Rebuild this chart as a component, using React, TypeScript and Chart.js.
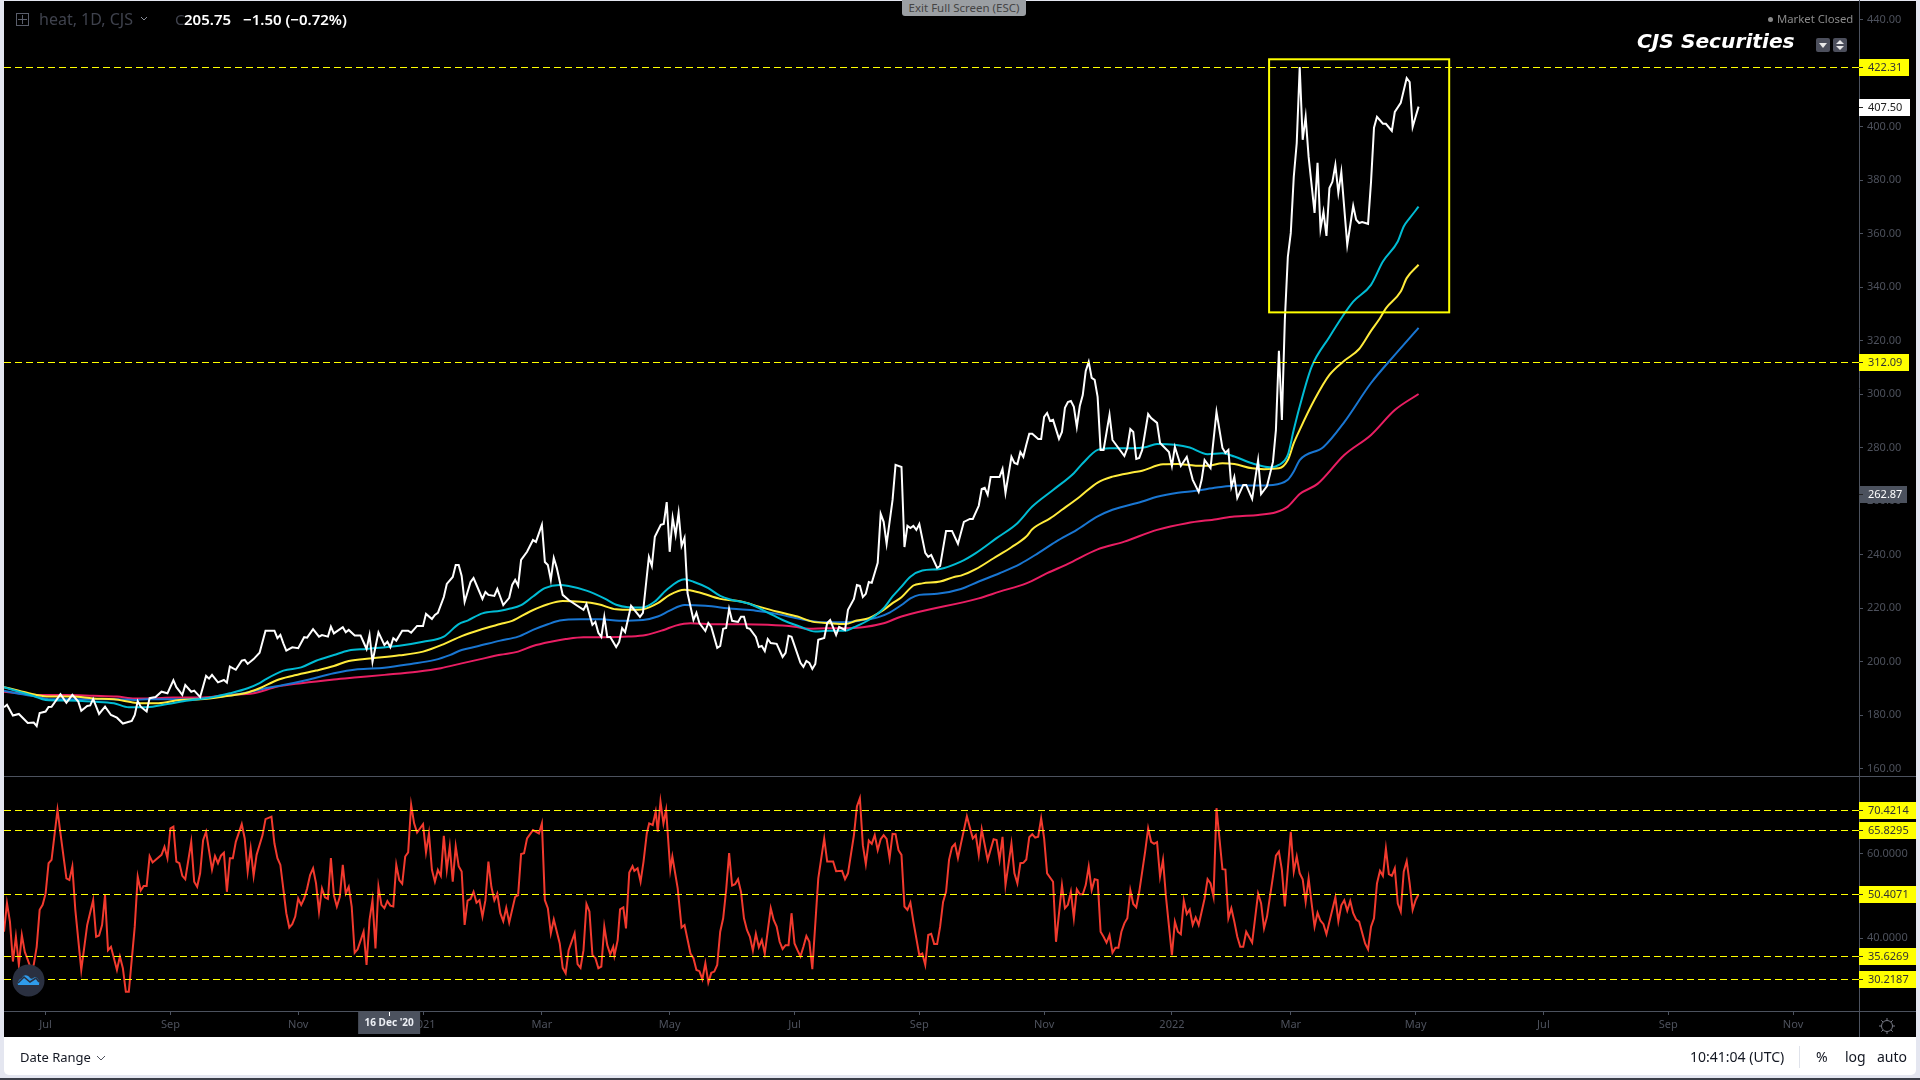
import React, { useEffect, useRef } from "react";
import { Chart, registerables } from "chart.js";

Chart.register(...registerables);

// [trading day, value]
const closePrice: [number, number][] = [
[0,183],[1,183.9],[3,179.9],[5,180.5],[8,177.1],[10,177.3],[11,176],[12,180.8],[14,181.4],[15,183.1],[16,183.2],[19,187.9],[21,184.7],[23,187.6],[25,185.1],[26,181.7],[28,183.5],[29,183.7],[30,186.1],[32,180.5],[34,183.2],[36,180.1],[38,179.1],[40,176.9],[43,177.9],[44,180.1],[45,185.3],[46,183.2],[48,181.4],[49,186.4],[51,186.8],[53,188.8],[55,188.2],[57,193.1],[58,190.5],[60,187.6],[61,191.3],[63,188.8],[64,189.2],[66,186.8],[68,194.7],[69,193.7],[70,195.1],[72,192.3],[74,193.2],[75,192.2],[76,198.2],[78,197],[80,200.4],[81,200.7],[82,199.2],[84,201],[86,203.4],[88,211.6],[91,211.6],[92,208.8],[93,210],[94,206.9],[95,204.2],[97,205.4],[99,205.1],[101,209.2],[102,209],[104,212.2],[106,209.4],[107,210],[109,209.4],[110,213.1],[111,210.6],[114,212.9],[115,211],[116,211.9],[118,209.8],[120,209.8],[122,204.8],[123,210],[124,200],[126,211],[128,206.3],[129,207.5],[130,205.4],[131,208.8],[132,207.9],[134,211.6],[136,211.6],[137,210.9],[139,213.4],[141,213.4],[142,217.9],[144,216],[145,217.5],[146,218.3],[148,224.2],[149,229.1],[151,231.7],[152,236.2],[153,236.2],[154,232.1],[155,222.4],[157,229.8],[158,231.3],[159,228.7],[161,223.5],[162,226.1],[163,225],[165,224.6],[166,227.2],[168,221.2],[170,223.9],[171,228.7],[172,230.6],[173,228.4],[174,238.1],[176,241.1],[178,245.5],[179,244.8],[181,251.2],[182,237.3],[183,236.2],[184,230.6],[185,238.8],[186,235.1],[188,225],[190,223.1],[195,219.4],[196,221.6],[198,213.8],[199,214.9],[200,210.8],[201,209.3],[202,216.8],[203,209.3],[204,209.3],[206,205.5],[207,207.4],[208,212.6],[209,211.1],[211,220.9],[214,216.8],[215,218.3],[217,239.2],[218,235.8],[219,246.7],[221,251.2],[222,251.5],[223,259.7],[224,241.1],[225,253.8],[226,247.4],[227,255.6],[228,243.3],[229,246.3],[230,225.7],[232,215.6],[233,218.3],[234,214.5],[236,211.5],[237,214.5],[238,213],[240,205.2],[241,205.9],[242,212.3],[243,212.6],[244,219.8],[245,215.3],[247,214.9],[248,216.8],[249,216.8],[250,212.6],[251,212.3],[253,209.3],[254,205.5],[255,205.9],[256,204],[257,208.5],[258,207],[260,206.7],[262,201.8],[263,203.3],[264,209.7],[265,209.3],[268,199.6],[269,198.1],[270,200.3],[271,199.6],[272,197.3],[273,199.2],[274,208.2],[276,208.9],[277,214.5],[278,215.6],[280,210],[281,213],[283,211.9],[284,219.4],[286,223.5],[287,228.7],[288,228.4],[289,224.2],[290,225.4],[291,229.8],[292,229.5],[294,237],[295,255.3],[296,252.3],[297,244.1],[299,260.5],[300,273.6],[302,272.8],[303,242.9],[304,250.8],[305,250],[306,250.8],[307,249.3],[308,251.5],[310,240.7],[311,239.2],[312,239.9],[314,235.1],[315,235.8],[317,248.9],[319,248.9],[321,244.1],[323,252.3],[325,253.4],[326,253.4],[328,258.3],[329,264.6],[330,265],[331,262.4],[332,269.1],[335,269.1],[336,272.1],[337,263.1],[339,276.6],[340,274.3],[341,273.9],[342,278.4],[343,276.6],[344,281.1],[345,285.2],[346,285.2],[348,283.3],[349,283.3],[350,291.5],[351,293],[352,290],[353,290.4],[355,283.3],[356,285.9],[357,294.9],[358,297.1],[359,297.5],[360,295.3],[361,287.8],[362,295.6],[363,299.7],[364,308.7],[365,312.1],[366,306.1],[367,305.4],[368,299],[369,279.2],[370,279.2],[372,292.3],[373,282.9],[375,279.9],[377,276.9],[378,279.9],[379,287],[380,285.9],[381,275.8],[382,276.2],[383,279.2],[385,292.6],[386,291.1],[388,289.3],[389,281.8],[392,278.4],[393,273.2],[394,280.3],[396,273.2],[398,276.6],[400,268],[402,263.5],[403,268],[404,275.4],[406,272.4],[408,293.4],[410,279.9],[411,278.1],[412,279.2],[413,265.4],[414,269.1],[415,261.2],[417,266.1],[418,266.1],[420,260.9],[422,275.4],[423,262.7],[425,265.7],[427,274.7],[428,286.7],[429,316.2],[430,290.4],[431,327.8],[432,351.3],[433,360.3],[434,381.2],[435,393.9],[436,422.3],[437,395.1],[438,403.7],[439,388.7],[441,367.8],[442,386.5],[443,361.8],[444,368.2],[445,359.2],[446,377.1],[447,379.4],[448,385.7],[449,375.3],[450,383.1],[452,355.8],[454,370.4],[455,365.2],[456,364],[457,364.4],[459,363.7],[460,379.4],[461,399.6],[462,403.7],[464,401.1],[465,401.1],[467,398.4],[468,405.5],[470,408.9],[472,418.2],[473,416.7],[474,399.9],[475,403.7],[476,407.5],
];

const maCyan: [number, number][] = [
[0,190.5],[5,188.8],[10,187.2],[14,185.7],[21,185.5],[30,185.1],[37,184.5],[42,183],[48,183],[55,184.2],[62,185.5],[70,186.7],[76,188.2],[82,190.1],[86,192],[88,193.4],[94,196.7],[100,197.9],[105,200.4],[111,202.5],[116,204.2],[122,204.8],[133,206],[141,207.5],[148,209.4],[153,214.1],[156,215.4],[161,218.1],[167,219.1],[170,219.8],[174,221.2],[178,224.4],[182,227.5],[187,228.7],[190,228.3],[196,226.6],[202,223.7],[206,221.3],[210,220.4],[215,220.3],[219,222.5],[223,226.9],[229,230.8],[232,229.9],[237,227.5],[241,224.6],[245,223.1],[251,221.6],[257,218.4],[262,215.6],[268,213.1],[273,211.3],[277,211.6],[283,211.6],[286,212.9],[291,215.6],[296,220],[299,224.4],[302,228.1],[305,231.8],[309,234.1],[315,234.7],[322,237.4],[327,240.6],[334,246.2],[341,251.8],[346,258],[353,264.2],[360,270.5],[363,274.2],[368,279.2],[372,279.8],[380,279.8],[384,280.2],[388,281.4],[394,281.1],[399,280.1],[405,277.6],[410,277.9],[414,276.7],[420,274.2],[426,272.7],[429,273.6],[432,277.3],[434,286.7],[436,295.4],[440,310.2],[446,321.4],[450,328.4],[454,334.6],[460,340.9],[464,349.6],[469,357.1],[471,362.7],[473,365.8],[476,370.1],
];

const maYellow: [number, number][] = [
[0,190.5],[5,189.2],[11,187.6],[15,187],[23,187],[30,186.3],[37,186],[44,184.7],[48,184.5],[52,184.5],[59,185.7],[66,186],[75,187.2],[81,188.2],[86,190.1],[92,193.2],[97,194.7],[105,196.7],[111,198.4],[116,200.3],[124,201.3],[133,202.4],[141,203.8],[148,206.6],[154,209.6],[160,211.9],[167,214.1],[171,215.3],[177,218.8],[183,221.5],[188,222.7],[194,222.4],[200,221.5],[206,219.6],[211,219.4],[215,219.6],[220,221.9],[224,225],[229,226.9],[234,225.9],[241,223.5],[248,222.5],[254,220.6],[260,218.8],[267,216.9],[272,215],[278,214.4],[283,214.1],[287,215.4],[291,216.3],[296,219.4],[299,221.9],[302,224.1],[306,228.5],[309,229.3],[315,230],[320,231.8],[322,232.2],[327,234.6],[333,238.7],[339,242.8],[344,246.8],[346,249.5],[352,253.6],[356,256.8],[362,261.7],[368,267],[373,269.2],[380,270.8],[383,271.4],[390,273.8],[395,273.9],[401,273.3],[405,273.3],[410,274.2],[414,273.9],[420,272.3],[424,272],[429,272.3],[432,275.4],[434,281.7],[436,286.7],[441,298],[446,307.2],[451,312.5],[456,316.9],[460,323.7],[463,328.4],[465,332.1],[470,338.4],[472,343.4],[476,348.4],
];

const maBlue: [number, number][] = [
[0,189.2],[5,188],[11,187],[15,186],[23,186],[30,186],[37,186],[44,185.7],[48,186],[55,186],[62,186],[70,186.6],[77,187.6],[83,188.8],[88,190.1],[94,191.3],[102,193.2],[111,195.7],[119,197.2],[128,197.8],[137,199.2],[145,200.7],[150,202.5],[154,204.4],[159,205.7],[167,207.9],[173,209.4],[178,211.9],[183,214],[187,215.4],[194,215.9],[201,215.9],[207,215.3],[215,215.6],[220,216.9],[224,219.1],[229,221.2],[236,220.9],[245,219.8],[253,219.1],[260,217.9],[268,216],[275,214.8],[283,214.8],[288,215.4],[294,216.6],[298,218.4],[302,221.2],[305,223.7],[308,225],[314,225.4],[322,227.2],[328,230],[335,233.1],[342,236.6],[348,240.6],[354,244.9],[361,249.3],[368,254.3],[373,256.8],[383,259.9],[388,261.7],[395,263.2],[401,263.9],[408,265.1],[415,265.9],[420,265.9],[427,266.1],[432,268],[434,271.1],[436,275.4],[444,280.3],[451,289.6],[460,304.2],[468,314.7],[476,324.8],
];

const maPink: [number, number][] = [
[0,188.8],[5,188.2],[11,187.6],[21,187.6],[30,187.3],[38,187],[44,186.3],[49,186.3],[57,186.6],[66,186.6],[75,187.6],[84,188.2],[92,190.7],[100,192],[111,193.4],[119,194.2],[128,195.1],[139,196.3],[147,197.6],[154,199.4],[160,200.9],[167,202.6],[173,203.8],[178,205.9],[184,207.5],[189,208.5],[195,209.2],[203,209.2],[210,209.4],[216,210],[222,211.9],[226,213.5],[231,214.4],[239,214],[249,214],[257,213.8],[266,213.1],[271,212.3],[277,212.5],[283,212.5],[289,212.9],[296,214.4],[302,216.9],[328,223.7],[335,226.2],[344,229.3],[351,233.1],[358,236.6],[368,242],[377,244.9],[388,249.3],[398,251.8],[408,253.3],[414,254.3],[422,254.9],[428,255.9],[432,258],[436,262.7],[442,266.5],[451,277.3],[460,284.8],[468,294.1],[476,300.1],
];

const rsiValues: [number, number][] = [
[0,41.5],[1,48.3],[2,43.9],[3,34.4],[4,40.3],[5,33.6],[6,40.7],[7,36.7],[8,34.8],[9,32.8],[10,33.6],[11,37.9],[12,46.7],[13,47.9],[14,50.6],[15,57.8],[16,58.6],[18,70.5],[19,64.9],[21,54.2],[22,53.8],[23,57],[24,46.7],[26,32.4],[28,43.1],[30,49],[31,40.3],[32,40.6],[33,43.1],[34,50.2],[35,37.1],[36,37.9],[38,32.4],[39,35.6],[40,32.8],[41,27.2],[42,27.2],[44,42.7],[45,54.6],[46,51.3],[47,52.4],[48,52.4],[49,59.5],[50,58],[53,59.8],[54,61.7],[55,59],[56,66.1],[57,66.5],[58,58.2],[59,57.8],[60,54.8],[61,54],[63,62.9],[64,53.4],[65,52.2],[66,55.4],[67,63.3],[68,65.3],[70,56.3],[71,59.5],[72,57.8],[73,59.6],[74,60.3],[75,51],[76,59],[77,59],[78,62.9],[80,67.1],[81,63.7],[82,55.8],[83,61.3],[84,54.8],[85,59.8],[87,64.5],[88,68.3],[90,68.9],[91,62.5],[92,59],[93,57.4],[95,45.9],[96,42.5],[97,43.3],[98,45.1],[99,49.4],[100,47.9],[101,49.4],[102,51.8],[103,55],[104,56.6],[105,53],[106,46.3],[107,51.8],[108,49.7],[109,49.3],[110,59],[111,50.2],[112,47.5],[113,49.8],[114,57.4],[115,50.6],[116,52.2],[117,47.5],[118,36.5],[119,37.3],[121,41.5],[122,33.6],[123,44.3],[124,49],[125,37.5],[126,52.2],[127,47.9],[128,47.1],[129,48.8],[130,47.7],[131,47.5],[132,57.4],[133,53.8],[134,52.9],[135,59.4],[136,60.4],[137,71.7],[138,67.3],[139,65.1],[141,67.1],[142,60.4],[143,64.9],[144,56.2],[145,53.4],[146,56.2],[147,54.8],[148,64.3],[149,56.2],[150,61.8],[151,53.4],[152,61.8],[153,57.1],[154,55.8],[155,43.1],[156,48.9],[157,49.3],[158,51],[159,48.4],[160,49],[161,45.1],[162,49],[163,58.2],[164,52.2],[165,49],[166,50.6],[167,45.9],[168,44],[169,47.2],[170,43.7],[172,49.8],[173,50.2],[174,60],[175,60.2],[176,63.7],[178,65.7],[180,64.9],[181,67.3],[182,49],[183,47.1],[184,41.1],[185,44.4],[187,38.7],[188,32.9],[189,31.6],[190,37.1],[192,41.1],[193,33.8],[194,32.9],[195,37.1],[196,48.1],[197,46.3],[198,36],[199,35.2],[200,32.8],[201,33.2],[202,42.7],[203,38.3],[204,36.1],[205,37.9],[205.4,35.8],[206.5,39.5],[207.3,46.8],[208.4,47.3],[209.3,42.3],[210.4,55.6],[211.5,57.1],[212.1,56],[213.2,56.6],[214.2,53.4],[215.2,58.2],[216.3,64.9],[217.1,67.3],[218.3,66.9],[219.3,70.1],[220,65.3],[220.9,72.5],[221.9,67.3],[222.8,70.5],[224.2,56.2],[224.9,59.4],[226.7,51.8],[228,42.5],[229,43.1],[231,36.3],[232,35.2],[233,32.4],[234,32.1],[235,30.2],[236,34],[237,29.4],[238,31.7],[239,32],[240,33.6],[241,41.5],[242,44.7],[243,51.4],[244,60.2],[245,52.5],[246,52.8],[247,54],[248,51],[249,44.7],[250,41.9],[251,40.3],[252,37],[253,41],[254,37.8],[255,39.5],[256,36.3],[258,47.1],[259,44.3],[260,42.7],[261,39.1],[262,37.4],[263,38.3],[264,38.3],[265,45.9],[266,38.7],[267,37.1],[268,35.6],[269,37.9],[270,40.5],[271,39.1],[272,32.6],[274,54.2],[276,63.7],[277,58.2],[279,58.2],[280,55.9],[282,56],[283,54],[284,55.4],[286,64.5],[287,71.3],[288,73.3],[289,62.1],[290,57.6],[291,63.2],[292,62.4],[293,64.5],[294,60.9],[295,63.5],[296,64.5],[297,63.6],[298,59],[299,64.8],[300,64.7],[301,60.9],[302,59.8],[303,47.5],[304,46.7],[305,48.4],[306,43.9],[308,35.9],[309,36.3],[310,33.6],[311,40.7],[312,41],[313,38.6],[314,38.6],[315,42.7],[316,48.6],[317,51],[318,58.6],[319,61.6],[320,62.4],[321,59],[322,62.4],[324,69],[326,63.7],[327,64.5],[328,59.8],[329,65.9],[331,58.6],[333,63.5],[334,63.3],[335,58.6],[336,64.1],[337,52.6],[339,62.5],[340,55.4],[341,53],[342,57.8],[343,57.9],[344,58.7],[345,64],[346,64.7],[347,63.9],[348,64.1],[349,68.5],[350,63.7],[351,55.4],[353,53.4],[354,39.1],[356,52.6],[357,47.1],[358,47.9],[359,51],[360,44.7],[361,51.6],[362,50.4],[363,50.4],[364,52.6],[365,57],[366,51.4],[367,54],[368,53.8],[369,41.5],[370,40.3],[371,38.9],[372,40.7],[373,36.5],[374,37.7],[375,37.7],[376,41.5],[377,43.5],[378,44.7],[379,51.4],[380,48.1],[381,47.3],[382,51],[384,60.6],[385,66.1],[386,62.9],[387,62.4],[388,62.8],[389,54.6],[390,58.6],[391,49.8],[393,35.9],[394,43.9],[395,41.5],[396,40.9],[397,48.9],[398,45.7],[399,46.8],[400,43.1],[401,44.9],[402,43.1],[404,49.4],[405,54],[406,53],[407,49.8],[408,70.9],[410,56.4],[411,56.3],[412,44.7],[413,47.1],[414,43.9],[415,40.3],[416,37.9],[417,37.9],[418,41.5],[420,38.9],[422,50.6],[423,48.3],[424,42.3],[425,45.1],[427,54.6],[428,59.6],[429,60.6],[430,56.2],[431,47.5],[433,65.3],[434,55.8],[435,59.4],[436,55.4],[437,54],[438,48.6],[439,54.2],[440,48.3],[441,42.7],[442,46],[443,44.1],[444,43.3],[445,40.9],[446,43.9],[447,46.8],[448,49.7],[449,44],[450,47.8],[451,49],[452,46.5],[453,48.8],[454,45.9],[455,44.4],[456,43.9],[458,38.7],[459,37.3],[460,42.7],[461,44.7],[462,53],[463,56],[464,54.8],[465,61.3],[466,55.2],[467,54.8],[468,56.6],[469,48.2],[470,46.3],[471,55.8],[472,58.3],[473,53],[474,46.7],[475,49],[476,50.4],
];

const priceTicks = [160, 180, 200, 220, 240, 260, 280, 300, 320, 340, 360, 380, 400, 420, 440];
const rsiTicks = [40, 60];
const priceLevels = [422.31, 312.09];
const rsiLevels = [70.4214, 65.8295, 50.4071, 35.6269, 30.2187];
const timeTickDays = [14, 56, 99, 141, 181, 224, 266, 308, 350, 393, 433, 475, 518, 560, 602];
const timeTickLabels = ["Jul", "Sep", "Nov", "2021", "Mar", "May", "Jul", "Sep", "Nov", "2022", "Mar", "May", "Jul", "Sep", "Nov"];
const lastPrice = 407.5;
const hoverPrice = 262.87;
const hoverDay = 129.6;
const hoverDayLabel = "16 Dec '20";
const highlight = { dayFrom: 425.7, dayTo: 486.3, priceFrom: 330.6, priceTo: 425.2 };

const AXIS = "#4c525e";
const TEXT = "#4d515c";
const FONT = '"Noto Sans", sans-serif';
const DAY_MAX = 624.2;
const PLOT_W = 1912;

const xy = (rows: [number, number][]) => rows.map(([x, y]) => ({ x, y }));
const line = (label: string, rows: [number, number][], color: string, w: number) => ({
  label, data: xy(rows), borderColor: color, borderWidth: w, pointRadius: 0, tension: 0, fill: false,
});
const smooth = (label: string, rows: [number, number][], color: string, w: number) => ({
  ...line(label, rows, color, w), cubicInterpolationMode: "monotone",
});

function tag(ctx: any, x: number, y: number, w: number, text: string, bg: string, fg: string) {
  ctx.fillStyle = bg;
  ctx.fillRect(x, Math.round(y) - 8, w, 17);
  ctx.strokeStyle = "#222";
  ctx.lineWidth = 1;
  ctx.beginPath();
  ctx.moveTo(x, Math.round(y) + 0.5);
  ctx.lineTo(x + 4, Math.round(y) + 0.5);
  ctx.stroke();
  ctx.fillStyle = fg;
  ctx.font = `11px ${FONT}`;
  ctx.textBaseline = "middle";
  ctx.textAlign = "left";
  ctx.fillText(text, x + 9, Math.round(y) + 1);
}

function levelsPlugin(levels: number[], digits: number, boxW: number) {
  return {
    id: "levels",
    afterDatasetsDraw(chart: any) {
      const { ctx, chartArea, scales } = chart;
      ctx.save();
      for (const v of levels) {
        const y = Math.round(scales.y.getPixelForValue(v)) + 0.5;
        ctx.strokeStyle = "#ffff00";
        ctx.lineWidth = 1;
        ctx.setLineDash([7, 4]);
        ctx.beginPath();
        ctx.moveTo(chartArea.left, y);
        ctx.lineTo(chartArea.right, y);
        ctx.stroke();
        ctx.setLineDash([]);
      }
      ctx.restore();
    },
    afterDraw(chart: any) {
      const { ctx, chartArea, scales } = chart;
      ctx.save();
      for (const v of levels) {
        tag(ctx, chartArea.right, scales.y.getPixelForValue(v), boxW, v.toFixed(digits), "#ffff00", "#333");
      }
      ctx.restore();
    },
  };
}

const priceOverlay = {
  id: "priceOverlay",
  afterDatasetsDraw(chart: any) {
    const { ctx, scales } = chart;
    ctx.save();
    const x1 = scales.x.getPixelForValue(highlight.dayFrom);
    const x2 = scales.x.getPixelForValue(highlight.dayTo);
    const y1 = scales.y.getPixelForValue(highlight.priceTo);
    const y2 = scales.y.getPixelForValue(highlight.priceFrom);
    ctx.strokeStyle = "#ffff00";
    ctx.lineWidth = 2;
    ctx.strokeRect(x1, y1, x2 - x1, y2 - y1);
    ctx.restore();
  },
  afterDraw(chart: any) {
    const { ctx, chartArea, scales } = chart;
    ctx.save();
    tag(ctx, chartArea.right, scales.y.getPixelForValue(lastPrice), 51, lastPrice.toFixed(2), "#ffffff", "#222");
    tag(ctx, chartArea.right, scales.y.getPixelForValue(hoverPrice), 48, hoverPrice.toFixed(2), AXIS, "#ffffff");
    ctx.restore();
  },
};

const hoverOverlay = {
  id: "hoverOverlay",
  afterDraw(chart: any) {
    const { ctx, chartArea, scales } = chart;
    const x = scales.x.getPixelForValue(hoverDay);
    ctx.save();
    ctx.fillStyle = "#4c525e";
    ctx.fillRect(x - 31, chartArea.bottom + 1, 62, 22);
    ctx.fillStyle = "#ffffff";
    ctx.fillRect(Math.round(x), chartArea.bottom + 1, 1, 4);
    ctx.fillStyle = "#eceff4";
    ctx.font = `bold 10px ${FONT}`;
    ctx.textAlign = "center";
    ctx.textBaseline = "middle";
    ctx.fillText(hoverDayLabel, x, chartArea.bottom + 12);
    ctx.restore();
  },
};

const noPad = (s: any) => { s.paddingTop = 0; s.paddingBottom = 0; s.paddingLeft = 0; s.paddingRight = 0; };

function yScale(min: number, max: number, ticks: number[], digits: number) {
  return {
    type: "linear",
    position: "right",
    min,
    max,
    afterFit: (s: any) => { s.width = 57; noPad(s); },
    afterBuildTicks: (s: any) => { s.ticks = ticks.map((value) => ({ value })); },
    border: { display: true, color: AXIS, width: 1 },
    grid: { drawOnChartArea: false, drawTicks: true, tickLength: 4, color: AXIS },
    ticks: {
      color: TEXT, padding: 4, autoSkip: false, font: { family: FONT, size: 11 },
      callback: (v: number) => Number(v).toFixed(digits),
    },
  };
}

const baseOptions = {
  responsive: false,
  animation: false,
  devicePixelRatio: 1,
  events: [],
  layout: { padding: 0 },
  plugins: { legend: { display: false }, tooltip: { enabled: false } },
};

function Icon({ x, y, children, w = 14, h = 14 }: any) {
  return (
    <svg width={w} height={h} viewBox={`0 0 ${w} ${h}`} style={{ position: "absolute", left: x, top: y }}>
      {children}
    </svg>
  );
}

function Txt({ x, y, size = 14, color, weight = 400, style, children }: any) {
  return (
    <div style={{ position: "absolute", left: x, top: y, transform: "translateY(-50%)", fontSize: size, color, fontWeight: weight, fontFamily: FONT, whiteSpace: "pre", lineHeight: 1, ...style }}>
      {children}
    </div>
  );
}

export default function App() {
  const mainRef = useRef<HTMLCanvasElement>(null);
  const rsiRef = useRef<HTMLCanvasElement>(null);

  useEffect(() => {
    const main = new Chart(mainRef.current!, {
      type: "line",
      data: {
        datasets: [
          line("Close", closePrice, "#ffffff", 2),
          smooth("MA fast", maCyan, "#00bcd4", 2),
          smooth("MA mid", maYellow, "#ffeb3b", 2),
          smooth("MA slow", maBlue, "#1976d2", 2),
          smooth("MA long", maPink, "#e91e63", 2),
        ],
      },
      options: {
        ...baseOptions,
        scales: {
          x: { type: "linear", min: 0, max: DAY_MAX, display: false },
          y: yScale(157.3, 447.36, priceTicks, 2),
        },
      } as any,
      plugins: [levelsPlugin(priceLevels, 2, 50), priceOverlay],
    });
    const rsi = new Chart(rsiRef.current!, {
      type: "line",
      data: { datasets: [line("RSI", rsiValues, "#f23a2e", 2)] },
      options: {
        ...baseOptions,
        scales: {
          x: {
            type: "linear",
            min: 0,
            max: DAY_MAX,
            afterFit: (s: any) => { s.height = 26; noPad(s); },
            afterBuildTicks: (s: any) => { s.ticks = timeTickDays.map((value) => ({ value })); },
            border: { display: true, color: AXIS },
            grid: { drawOnChartArea: false, drawTicks: true, tickLength: 4, color: AXIS },
            ticks: {
              color: TEXT, padding: 3, autoSkip: false, maxRotation: 0, minRotation: 0,
              font: { family: FONT, size: 11 },
              callback: (v: number) => timeTickLabels[timeTickDays.indexOf(v)] ?? "",
            },
          },
          y: yScale(22.62, 78.57, rsiTicks, 4),
        },
      } as any,
      plugins: [levelsPlugin(rsiLevels, 4, 57), hoverOverlay],
    });
    return () => { main.destroy(); rsi.destroy(); };
  }, []);

  return (
    <div style={{ position: "fixed", left: 0, top: 0, width: 1920, height: 1080, background: "#e4e6f0", overflow: "hidden" }}>
      <div style={{ position: "absolute", left: 0, top: 1078, width: 1920, height: 2, background: "#3b3e48" }} />
      <div style={{ position: "absolute", left: 4, top: 1, width: 1912, height: 1036, background: "#000" }} />
      <div style={{ position: "absolute", left: 4, top: 1037, width: 1912, height: 38, background: "#fff", borderRadius: "0 0 5px 5px" }} />
      <canvas ref={mainRef} width={PLOT_W} height={776} style={{ position: "absolute", left: 4, top: 0, width: PLOT_W, height: 776 }} />
      <canvas ref={rsiRef} width={PLOT_W} height={261} style={{ position: "absolute", left: 4, top: 776, width: PLOT_W, height: 261 }} />
      <div style={{ position: "absolute", left: 4, top: 776, width: 1912, height: 1, background: AXIS }} />
      <div style={{ position: "absolute", left: 4, top: 1011, width: 1912, height: 1, background: AXIS }} />
      <div style={{ position: "absolute", left: 1859, top: 1011, width: 1, height: 26, background: AXIS }} />

      <Icon x={16} y={13}>
        <rect x="0.5" y="0.5" width="12" height="12" fill="none" stroke="#5a5e6b" />
        <path d="M6.5 2V11M2 6.5H11" stroke="#5a5e6b" />
      </Icon>
      <Txt x={39} y={19} size={16} color="#3f424d">heat, 1D, CJS</Txt>
      <Icon x={140} y={16} w={8} h={6}><path d="M1 1L4 4L7 1" fill="none" stroke="#8a8e99" /></Icon>
      <Txt x={175} y={19} size={15} color="#3f424d">C</Txt>
      <Txt x={184} y={19} size={15} color="#ffffff" weight={600}>205.75</Txt>
      <Txt x={243} y={19} size={15} color="#ffffff" weight={600}>−1.50 (−0.72%)</Txt>

      <div style={{ position: "absolute", left: 902, top: 0, width: 124, height: 16, background: "#9b9fa3", borderRadius: "0 0 3px 3px", color: "#444", fontFamily: FONT, fontSize: 11.5, lineHeight: "16px", textAlign: "center" }}>Exit Full Screen (ESC)</div>

      <div style={{ position: "absolute", left: 1768, top: 17, width: 5, height: 5, borderRadius: 3, background: "#8a8a8a" }} />
      <Txt x={1777} y={19} size={11.3} color="#8a8a8a">Market Closed</Txt>
      <Txt x={1637} y={41} size={20.2} color="#ffffff" weight={700} style={{ fontFamily: '"DejaVu Sans", sans-serif', fontStyle: "italic" }}>CJS Securities</Txt>
      <Icon x={1816} y={38} w={14} h={14}>
        <rect width="14" height="14" rx="2" fill="#4c4f5c" />
        <path d="M3 5H11L7 10Z" fill="#e8e8e8" />
      </Icon>
      <Icon x={1833} y={38} w={14} h={14}>
        <rect width="14" height="14" rx="2" fill="#4c4f5c" />
        <path d="M3 6H11L7 2ZM3 8H11L7 12Z" fill="#e8e8e8" />
      </Icon>

      <Icon x={12} y={964} w={33} h={33}>
        <circle cx="16.5" cy="16.5" r="16" fill="#2a3040" />
        <path d="M6 21C5 17 8 15 10 14C12 10 16 11 18 14C20 16 22 13 24 13C26 15 28 17 27 21Z" fill="#2f9ceb" />
        <path d="M6 19L12 13L18 18L24 14L27 18" fill="none" stroke="#2a3040" strokeWidth="1.6" />
      </Icon>

      <Txt x={20} y={1057} size={13} color="#131722">Date Range</Txt>
      <Icon x={96} y={1055} w={10} h={7}><path d="M1 1L5 5L9 1" fill="none" stroke="#50535e" /></Icon>
      <Txt x={1690} y={1057} size={14} color="#131722">10:41:04 (UTC)</Txt>
      <div style={{ position: "absolute", left: 1799, top: 1046, width: 1, height: 22, background: "#e0e3eb" }} />
      <Txt x={1816} y={1057} size={14} color="#131722">%</Txt>
      <Txt x={1845} y={1057} size={14} color="#131722">log</Txt>
      <Txt x={1877} y={1057} size={14} color="#131722">auto</Txt>

      <Icon x={1879} y={1018} w={16} h={16}>
        <circle cx="8" cy="8" r="5.5" fill="none" stroke="#787b86" />
        <path d="M8 0V2.5M8 13.5V16M0 8H2.5M13.5 8H16M2.3 2.3L4 4M12 12L13.7 13.7M13.7 2.3L12 4M4 12L2.3 13.7" stroke="#787b86" />
      </Icon>
    </div>
  );
}
